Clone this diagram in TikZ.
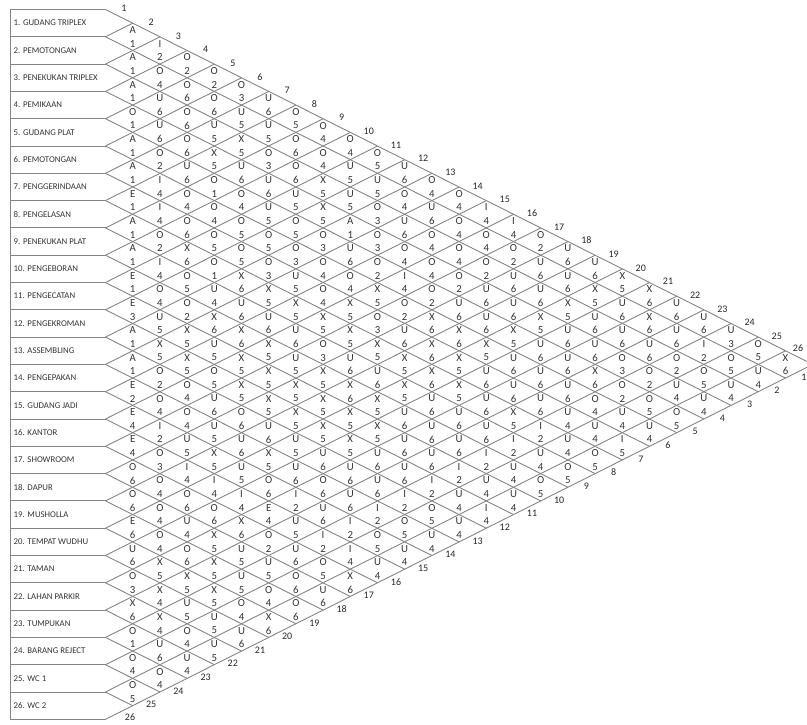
\documentclass[tikz,border=0pt]{standalone}
\usepackage{fontspec}
\setmainfont{Carlito}
\def\Xo{105.5}
\def\Yo{9.5}
\def\hw{27.2}
\def\hd{13.65}
\def\dd{27.3}
\newcommand\arcrow[2]{%
  \foreach \L/\N [count=\c] in {#2} {%
    \pgfmathsetmacro\xx{\Xo+\c*\hw}%
    \pgfmathsetmacro\yy{\Yo+(2*#1+\c-1)*\hd}%
    \node[lett] (L#1x\c) at (\xx,\yy-6.8) {\L};%
    \node[lett] (N#1x\c) at (\xx,\yy+6.8) {\N};%
  }%
}
\begin{document}
\begin{tikzpicture}[x=1pt,y=-1pt,
  grid/.style={draw=black!48, line width=0.9pt},
  lett/.style={font=\fontsize{10.8}{11}\selectfont, text=black!80, inner sep=0pt},
  edgelab/.style={font=\fontsize{10}{10}\selectfont, text=black!85, inner sep=0pt},
  boxlab/.style={font=\fontsize{8.8}{9}\selectfont, text=black!80, inner sep=0pt, anchor=west}]
\useasboundingbox (0,0) rectangle (807,724);
% boundary points of the department boxes
\foreach \b in {0,...,26} {
  \coordinate (bnd\b) at (\Xo,{\Yo+\b*\dd});
  \coordinate (lft\b) at (10,{\Yo+\b*\dd});
}
% box outlines
\draw[grid] (lft0) -- (lft26);
\foreach \b in {0,...,26} { \draw[grid] (lft\b) -- (bnd\b); }
% lattice lines
\foreach \b in {0,...,25} {
  \coordinate (dn\b) at ({\Xo+(26-\b)*\hw},{\Yo+(26+\b)*\hd});
  \draw[grid] (bnd\b) -- (dn\b);
}
\foreach \b in {1,...,26} {
  \coordinate (up\b) at ({\Xo+\b*\hw},{\Yo+\b*\hd});
  \draw[grid] (bnd\b) -- (up\b);
}
% department names
\foreach \i/\name in {1/GUDANG TRIPLEX,2/PEMOTONGAN,3/PENEKUKAN TRIPLEX,4/PEMIKAAN,
  5/GUDANG PLAT,6/PEMOTONGAN,7/PENGGERINDAAN,8/PENGELASAN,9/PENEKUKAN PLAT,
  10/PENGEBORAN,11/PENGECATAN,12/PENGEKROMAN,13/ASSEMBLING,14/PENGEPAKAN,
  15/GUDANG JADI,16/KANTOR,17/SHOWROOM,18/DAPUR,19/MUSHOLLA,20/TEMPAT WUDHU,
  21/TAMAN,22/LAHAN PARKIR,23/TUMPUKAN,24/BARANG REJECT,25/WC 1,26/WC 2} {
  \node[boxlab] (dept\i) at (13.5,{\Yo+(\i-0.5)*\dd}) {\i. \name};
}
% edge numbers
\foreach \k in {1,...,25} {
  \node[edgelab] (top\k) at ({\Xo+(\k-1)*\hw+18.5},{\Yo+(\k-1)*\hd-1}) {\k};
}
\node[edgelab] (top26) at (798,{\Yo+25*\hd-3}) {26};
\foreach \k in {1,...,25} {
  \node[edgelab] (bot\k) at ({\Xo+(26-\k)*\hw+18.5},{\Yo+26*\dd-(26-\k)*\hd-1}) {\k};
}
\node[edgelab] (bot26) at (130,{\Yo+26*\dd-2}) {26};
% relationship cells
\arcrow{1}{A/1,I/2,O/2,O/2,O/3,U/6,O/5,O/4,O/4,O/5,U/6,O/4,O/4,I/4,I/4,O/2,U/6,U/6,X/5,X/6,U/6,U/6,U/3,O/5,X/6}
\arcrow{2}{A/1,O/4,O/6,O/6,U/5,U/5,O/6,O/4,U/5,U/5,O/4,U/6,O/4,O/4,O/2,U/6,U/6,X/5,U/6,X/6,U/6,I/2,O/5,U/4}
\arcrow{3}{A/1,U/6,O/6,U/5,X/5,O/3,O/6,X/5,U/5,O/3,U/6,O/4,O/4,O/2,U/6,U/6,X/5,U/6,U/6,U/6,O/2,O/5,U/4}
\arcrow{4}{O/1,U/6,O/6,X/5,U/6,U/6,U/5,X/5,A/1,O/3,O/4,O/4,O/2,U/6,U/6,X/5,U/6,U/6,O/3,O/2,U/4,U/4}
\arcrow{5}{A/1,O/2,U/6,O/1,O/4,U/5,O/5,O/3,U/6,O/2,I/4,O/2,U/6,U/6,X/5,U/6,U/6,X/6,O/2,O/5,O/5}
\arcrow{6}{A/1,I/4,O/4,O/4,O/5,O/5,O/3,O/4,O/4,X/5,O/2,X/6,X/6,X/5,U/6,U/6,U/6,O/4,U/4,U/4}
\arcrow{7}{E/1,I/4,O/6,O/5,O/5,O/3,U/5,O/4,X/5,O/3,U/6,X/6,X/5,U/6,U/6,U/6,U/4,U/4,I/5}
\arcrow{8}{A/1,O/2,X/6,O/1,X/6,X/5,X/5,X/5,X/5,X/5,X/5,X/6,X/5,U/6,X/5,I/2,U/4,O/5}
\arcrow{9}{A/1,I/4,O/5,U/4,U/6,U/6,U/6,O/3,U/6,U/6,X/5,U/6,U/6,U/6,I/2,U/4,O/5}
\arcrow{10}{E/1,O/4,O/2,X/6,X/6,X/5,U/5,X/5,X/6,X/5,U/6,U/6,U/6,I/2,U/4,O/5}
\arcrow{11}{E/3,U/5,X/5,U/5,X/5,X/5,X/5,X/5,X/5,X/5,U/6,U/6,I/2,U/4,U/4}
\arcrow{12}{A/1,X/5,X/5,O/5,X/5,X/5,X/5,X/5,X/5,U/6,U/6,I/2,U/4,I/4}
\arcrow{13}{A/1,O/2,O/4,U/6,O/6,U/6,U/5,U/6,U/6,U/6,I/2,O/5,U/4}
\arcrow{14}{E/2,O/4,O/4,U/5,U/6,X/5,U/6,O/6,U/6,I/2,O/5,U/4}
\arcrow{15}{E/4,I/2,U/5,X/5,U/5,O/6,I/2,U/6,I/2,O/5,U/4}
\arcrow{16}{E/4,O/3,I/4,I/4,I/4,E/4,U/5,I/2,I/4,U/4}
\arcrow{17}{O/6,O/4,O/6,O/6,X/6,O/2,U/6,O/5,X/6}
\arcrow{18}{O/6,O/4,U/4,X/5,U/5,U/5,O/6,U/6}
\arcrow{19}{E/6,O/4,O/6,X/5,U/5,O/4,O/6}
\arcrow{20}{U/6,X/5,X/5,X/5,O/4,X/6}
\arcrow{21}{O/3,X/4,U/5,U/5,U/6}
\arcrow{22}{X/6,X/4,O/4,U/5}
\arcrow{23}{O/1,U/6,U/4}
\arcrow{24}{O/4,O/4}
\arcrow{25}{O/5}
\end{tikzpicture}
\end{document}
